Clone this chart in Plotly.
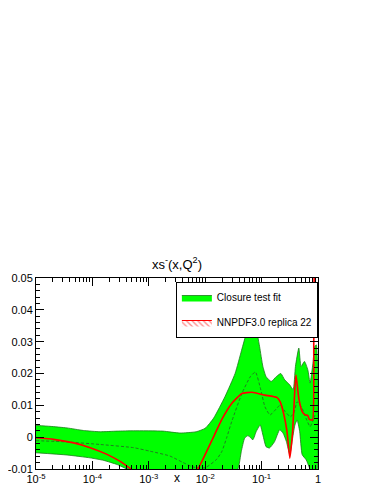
import numpy as np
import plotly.graph_objects as go

# log10(x) positions and values
band_hi_logx = [-5.00, -4.75, -4.45, -4.16, -3.86, -3.56, -3.27, -2.75, -2.45, -2.16, -2.00,
                -1.85, -1.65, -1.47, -1.355, -1.27, -1.22, -1.15, -1.10, -1.066, -1.035, -0.977,
                -0.92, -0.83, -0.74, -0.66, -0.59, -0.50, -0.44, -0.40, -0.34, -0.30, -0.24,
                -0.18, -0.14, -0.09, -0.06, -0.03]
band_hi = [0.0037, 0.0034, 0.0029, 0.0021, 0.0017, 0.0019, 0.0020, 0.0019, 0.0013, 0.0017, 0.0028,
           0.0060, 0.0127, 0.0200, 0.0273, 0.0330, 0.0400, 0.0460, 0.0400, 0.0316, 0.0284, 0.0222,
           0.0190, 0.0175, 0.0190, 0.0200, 0.0180, 0.0164, 0.0149, 0.0222, 0.0280, 0.0222, 0.0238,
           0.0211, 0.0170, 0.0232, 0.0284, 0.0290]

band_lo_logx = [-5.00, -4.45, -4.04, -3.80, -3.56, -3.39, -3.00, -2.50, -2.00, -1.60, -1.42,
                -1.36, -1.30, -1.24, -1.155, -1.095, -1.025, -0.977, -0.92, -0.86, -0.77, -0.68,
                -0.62, -0.56, -0.50, -0.46, -0.41, -0.37, -0.325, -0.28, -0.21, -0.15, -0.10, -0.03]
band_lo = [-0.0049, -0.0056, -0.0065, -0.0073, -0.0086, -0.0100, -0.0130, -0.0150, -0.0150, -0.0130, -0.0100,
           -0.0045, -0.0003, 0.0005, -0.0008, 0.0018, 0.0038, 0.0007, -0.0030, -0.0034, -0.0014, 0.0023,
           0.0013, -0.0014, -0.0055, -0.0014, 0.0038, 0.0054, 0.0018, -0.0055, -0.0071, -0.0097, -0.0120, -0.0120]

central_logx = [-5.00, -4.45, -3.86, -3.27, -2.98, -2.63, -2.39, -2.21, -2.00, -1.80, -1.705,
                -1.62, -1.53, -1.35, -1.20, -1.11, -1.02, -0.94, -0.85, -0.76, -0.67, -0.58,
                -0.49, -0.43, -0.37, -0.28, -0.20, -0.14, -0.095, -0.03]
central = [-0.0011, -0.0015, -0.0023, -0.0033, -0.0044, -0.0059, -0.0080, -0.0094, -0.0096, -0.0070, -0.0045,
           -0.0002, 0.0049, 0.0137, 0.0190, 0.0205, 0.0153, 0.0095, 0.0070, 0.0085, 0.0101, 0.0080,
           0.0064, 0.0075, 0.0111, 0.0090, 0.0054, 0.0033, 0.0049, 0.0080]

replica_logx = [-5.00, -4.69, -4.33, -4.04, -3.74, -3.50, -3.33, -3.00, -2.60, -2.30, -2.13,
                -1.86, -1.705, -1.53, -1.35, -1.17, -0.94, -0.73, -0.67, -0.61, -0.55, -0.50,
                -0.45, -0.41, -0.39, -0.34, -0.28, -0.23, -0.18, -0.155, -0.095, -0.075, -0.065]
replica = [-0.0002, -0.0007, -0.0018, -0.0033, -0.0054, -0.0077, -0.0098, -0.0140, -0.0160, -0.0130, -0.0100,
           -0.0002, 0.0056, 0.0106, 0.0137, 0.0141, 0.0132, 0.0125, 0.0111, 0.0075, 0.0018, -0.0066,
           0.0018, 0.0153, 0.0195, 0.0122, 0.0080, 0.0070, 0.0068, 0.0056, 0.0054, 0.0300, 0.0600]

x_ticks = [1e-5, 1e-4, 1e-3, 1e-2, 1e-1, 1]
x_ticktext = ["10<sup>-5</sup>", "10<sup>-4</sup>", "10<sup>-3</sup>", "10<sup>-2</sup>", "10<sup>-1</sup>", "1"]
y_ticks = [-0.01, 0, 0.01, 0.02, 0.03, 0.04, 0.05]
y_ticktext = ["-0.01", "0", "0.01", "0.02", "0.03", "0.04", "0.05"]

FONT = "Liberation Sans, Arial, sans-serif"

hi_x = 10 ** np.array(band_hi_logx)
lo_x = 10 ** np.array(band_lo_logx)

fig = go.Figure()

# closure test band as one closed polygon
fig.add_trace(go.Scatter(
    x=np.concatenate([hi_x, lo_x[::-1]]),
    y=np.concatenate([band_hi, band_lo[::-1]]),
    fill="toself", fillcolor="#00ff00",
    mode="lines", line=dict(color="#1a7a1a", width=0.8, shape="spline", smoothing=0.5),
    name="Closure test fit", legendgroup="a",
))
fig.add_trace(go.Scatter(
    x=10 ** np.array(central_logx), y=central,
    mode="lines", line=dict(color="#2a5a2a", width=0.8, dash="3px,2px", shape="spline", smoothing=0.5),
    showlegend=False, hoverinfo="skip",
))
fig.add_trace(go.Scatter(
    x=10 ** np.array(replica_logx), y=replica,
    mode="lines", line=dict(color="red", width=1.6, shape="spline", smoothing=0.4),
    showlegend=False,
))
# legend entry for the hatched replica band
fig.add_trace(go.Scatter(
    x=[None], y=[None], mode="lines", fill="toself",
    fillcolor="white", line=dict(color="red", width=1),
    fillpattern=dict(shape="\\", fgcolor="red", bgcolor="white", size=4, solidity=0.3),
    name="NNPDF3.0 replica 22", legendgroup="b",
))

minor_x = [m * 10.0 ** e for e in range(-5, 0) for m in range(2, 10)]
minor_y = [round(-0.01 + 0.002 * i, 4) for i in range(31)]

# the page body adds an 8px offset, so the figure is sized 8px smaller
fig.update_layout(
    width=374, height=486,
    margin=dict(l=28, r=64, t=270, b=25),
    paper_bgcolor="white", plot_bgcolor="white",
    font=dict(family=FONT, size=11, color="black"),
    title=dict(text="xs<sup>-</sup>(x,Q<sup>2</sup>)", x=0.5, xref="paper", xanchor="center",
               y=1 - 256 / 486, yref="container", yanchor="middle",
               font=dict(family=FONT, size=13, color="black")),
    showlegend=True,
    legend=dict(x=0.496, y=0.979, xanchor="left", yanchor="top",
                bgcolor="white", bordercolor="black", borderwidth=1,
                font=dict(family=FONT, size=10), traceorder="grouped",
                tracegroupgap=6, itemwidth=30),
    xaxis=dict(type="log", range=[-5, 0], tickmode="array", tickvals=x_ticks, ticktext=x_ticktext,
               ticks="inside", ticklen=8, tickcolor="black", showgrid=False, zeroline=False,
               showline=True, linecolor="black", linewidth=1, mirror="ticks", automargin=False,
               minor=dict(tickvals=minor_x, ticks="inside", ticklen=4, tickcolor="black", showgrid=False)),
    yaxis=dict(range=[-0.01, 0.05], tickmode="array", tickvals=y_ticks, ticktext=y_ticktext,
               ticks="inside", ticklen=8, tickcolor="black", showgrid=False, zeroline=False,
               showline=True, linecolor="black", linewidth=1, mirror="ticks", automargin=False,
               minor=dict(tickvals=minor_y, ticks="inside", ticklen=4, tickcolor="black", showgrid=False)),
    annotations=[dict(text="x", x=0.5, y=-(487 - 469) / 191, xref="paper", yref="paper",
                      showarrow=False, font=dict(family=FONT, size=12))],
)

fig.write_html("out.html")
